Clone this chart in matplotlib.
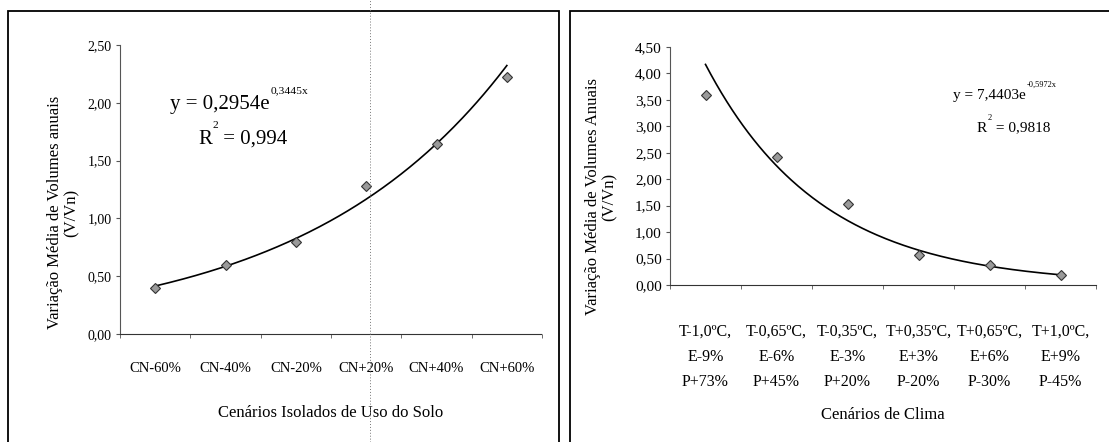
import numpy as np
import matplotlib
matplotlib.use("Agg")
import matplotlib.pyplot as plt
from matplotlib.patches import Rectangle
from matplotlib.lines import Line2D

plt.rcParams['font.family'] = ['Liberation Serif', 'DejaVu Serif']

# ---- data -------------------------------------------------
solo_cats = ["CN-60%", "CN-40%", "CN-20%", "CN+20%", "CN+40%", "CN+60%"]
solo_vals = [0.40, 0.60, 0.80, 1.28, 1.64, 2.22]

clima_cats = ["T-1,0ºC,\nE-9%\nP+73%", "T-0,65ºC,\nE-6%\nP+45%",
              "T-0,35ºC,\nE-3%\nP+20%", "T+0,35ºC,\nE+3%\nP-20%",
              "T+0,65ºC,\nE+6%\nP-30%", "T+1,0ºC,\nE+9%\nP-45%"]
clima_vals = [3.60, 2.42, 1.53, 0.57, 0.38, 0.18]

solo_yticks = [0, 0.5, 1.0, 1.5, 2.0, 2.5]
clima_yticks = [0, 0.5, 1.0, 1.5, 2.0, 2.5, 3.0, 3.5, 4.0, 4.5]

W, H = 1109, 442
fig = plt.figure(figsize=(W / 100, H / 100), dpi=100)


def px(x, y):
    return x / W, 1 - y / H


def fmt(v):
    return f"{v:.2f}".replace(".", ",")


def panel(rect, cats, vals, yticks, ylabel, xlabel, tsize, xsize, pad):
    ax = fig.add_axes(rect)
    x = np.arange(1, len(cats) + 1)
    # exponential trend fitted on the points (as Excel does)
    b, a = np.polyfit(x, np.log(vals), 1)
    xs = np.linspace(1, len(cats), 200)
    ax.plot(xs, np.exp(a) * np.exp(b * xs), color="black", lw=1.2)
    ax.plot(x, vals, ls="none", marker="D", ms=5.5, mfc="#9a9a9a", mec="#333333", mew=0.8)
    ax.set_xlim(0.5, len(cats) + 0.5)
    ax.set_ylim(yticks[0], yticks[-1])
    ax.set_yticks(yticks)
    ax.set_yticklabels([fmt(v) for v in yticks], fontsize=tsize)
    ax.set_xticks(x)
    ax.set_xticklabels(cats, fontsize=xsize, linespacing=1.75)
    ax.set_xticks(np.arange(0.5, len(cats) + 1), minor=True)
    ax.tick_params(axis="x", which="major", length=0, pad=pad)
    ax.tick_params(axis="x", which="minor", length=3, color="#555555")
    ax.tick_params(axis="y", length=3, color="#555555", pad=3)
    for s in ["top", "right"]:
        ax.spines[s].set_visible(False)
    ax.spines["left"].set_linestyle((0, (1, 1)))
    ax.spines["left"].set_color("#555555")
    ax.spines["bottom"].set_linestyle((0, (4, 1)))
    ax.spines["bottom"].set_color("#333333")
    ax.set_ylabel(ylabel, fontsize=12, linespacing=1.1)
    ax.set_xlabel(xlabel, fontsize=12)
    return ax


def equation(ax, x, y, main, sup, size):
    t = fig.text(*px(x, y), main, fontsize=size, va="center")
    ax.annotate(sup, xy=(1, 0.95), xycoords=t, xytext=(1, 0), textcoords="offset points",
                fontsize=size * 0.55, va="bottom", ha="left")


def r2(ax, x, y, val, size):
    t = fig.text(*px(x, y), "R", fontsize=size, va="center")
    ax.annotate("2", xy=(1, 0.95), xycoords=t, xytext=(0.5, 0), textcoords="offset points",
                fontsize=size * 0.55, va="bottom", ha="left")
    ax.annotate(" = " + val, xy=(1, 0.5), xycoords=t, xytext=(size * 0.3, 0),
                textcoords="offset points", fontsize=size, va="center", ha="left")


# left panel
l0, l1 = 120, 542
ax1 = panel([l0 / W, 1 - 334 / H, (l1 - l0) / W, (334 - 45) / H],
            solo_cats, solo_vals, solo_yticks,
            "Variação Média de Volumes anuais\n(V/Vn)",
            "Cenários Isolados de Uso do Solo", 10, 10.5, 20)
ax1.xaxis.labelpad = 22
ax1.yaxis.set_label_coords(-0.095, 0.42)

# right panel
r0, r1 = 670, 1096
ax2 = panel([r0 / W, 1 - 285 / H, (r1 - r0) / W, (285 - 47) / H],
            clima_cats, clima_vals, clima_yticks,
            "Variação Média de Volumes Anuais\n(V/Vn)",
            "Cenários de Clima", 11, 11.5, 28)
ax2.xaxis.labelpad = 12
ax2.yaxis.set_label_coords(-0.122, 0.37)

# equations
equation(ax1, 170, 104, "y = 0,2954e", "0,3445x", 15)
r2(ax1, 198, 139, "0,994", 15)
equation(ax2, 953, 95, "y = 7,4403e", "-0,5972x", 11)
r2(ax2, 977, 128, "0,9818", 11)

# scanned page frames
fig.patches.append(Rectangle(px(8, 460), 551 / W, 449 / H, transform=fig.transFigure,
                             fill=False, ec="black", lw=1.3))
fig.patches.append(Rectangle(px(570, 460), 560 / W, 449 / H, transform=fig.transFigure,
                             fill=False, ec="black", lw=1.3))
fig.lines.append(Line2D([370 / W, 370 / W], [0, 1], transform=fig.transFigure,
                        color="#777777", lw=0.7, ls=(0, (1, 2))))

fig.savefig("out.png", dpi=100)
